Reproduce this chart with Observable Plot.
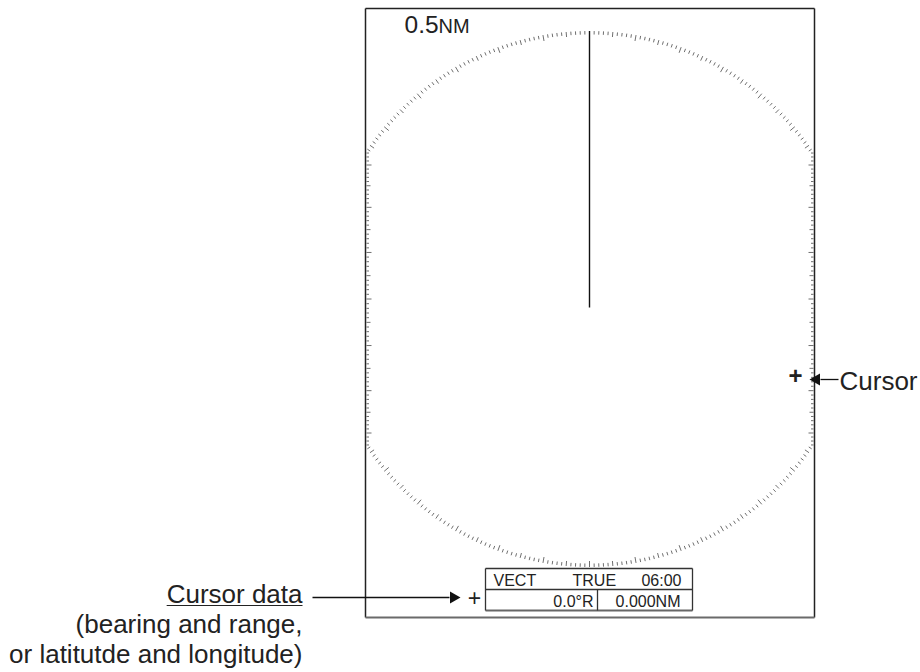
<!DOCTYPE html>
<html><head><meta charset="utf-8">
<script src="https://cdn.jsdelivr.net/npm/d3@7"></script>
<script src="https://cdn.jsdelivr.net/npm/@observablehq/plot@0.6"></script>
<style>body{margin:0;background:#fff}svg{display:block}</style>
</head><body><div id="chart"></div>
<script>
// ---- content ----
const rangeValue = "0.5";
const rangeUnit = "NM";
const vectorRow = ["VECT", "TRUE", "06:00"];
const cursorRow = ["0.0°R", "0.000NM"];
const cursorLabel = "Cursor";
const dataLabels = ["Cursor data", "(bearing and range,", "or latitutde and longitude)"];
const ringDegrees = d3.range(0, 360, 1);      // bearing scale graduations, one per degree

// ---- screen geometry (display units) ----
const frame = {x1: 365, x2: 814, y1: 8, y2: 617};
const ring = {cx: 589, cy: 298.5, r: 268};
const headingEnd = 307;
const box = {x1: 485, x2: 692, y1: 568, ym: 589, y2: 610, xd: 597};

const FONT = "Liberation Sans, Arial, Helvetica, sans-serif";
const ctx = document.createElement("canvas").getContext("2d");
const textWidth = (s, size) => { ctx.font = `${size}px ${FONT}`; return ctx.measureText(s).width; };

// ring ticks: radial inside the frame, horizontal stubs where the ring is cut by the frame
const ticks = ringDegrees.map(deg => {
  const len = deg % 10 === 0 ? 6 : deg % 5 === 0 ? 5 : 3.5;
  const a = deg * Math.PI / 180;
  const sx = Math.sin(a), sy = -Math.cos(a);
  let x1 = ring.cx + ring.r * sx, y1 = ring.cy + ring.r * sy;
  let x2 = ring.cx + (ring.r - len) * sx, y2 = ring.cy + (ring.r - len) * sy;
  if (x1 < frame.x1 + 1.5) { x1 = frame.x1 + 1; x2 = x1 + len - 1; y2 = y1; }
  if (x1 > frame.x2 - 1.5) { x1 = frame.x2 - 1; x2 = x1 - len + 1; y2 = y1; }
  return {x1, y1, x2, y2};
});

const big = 26;
const boxFont = 16;
const labelRows = dataLabels.map((t, i) => ({t, x: 302, y: 602 + i * 30}));
const ulW = textWidth(dataLabels[0], big);

const texts = [
  {t: rangeValue, x: 404, y: 32, size: 24.5, anchor: "start", weight: "normal"},
  {t: rangeUnit, x: 404 + textWidth(rangeValue, 24.5), y: 32, size: 20, anchor: "start", weight: "normal"},
  {t: cursorLabel, x: 839, y: 389, size: big, anchor: "start", weight: "normal"},
  {t: vectorRow[0], x: 493, y: 585, size: boxFont, anchor: "start", weight: "normal"},
  {t: vectorRow[1], x: 572, y: 585, size: boxFont, anchor: "start", weight: "normal"},
  {t: vectorRow[2], x: 681, y: 585, size: boxFont, anchor: "end", weight: "normal"},
  {t: cursorRow[0], x: 593, y: 606, size: boxFont, anchor: "end", weight: "normal"},
  {t: cursorRow[1], x: 680, y: 606, size: boxFont, anchor: "end", weight: "normal"},
  ...labelRows.map(d => ({t: d.t, x: d.x, y: d.y, size: big, anchor: "end", weight: "normal"}))
];

const pluses = [
  {x: 795, y: 376, size: 24, weight: "bold"},
  {x: 474, y: 598, size: 23, weight: "normal"}
];

const arrows = [
  {x1: 312, x2: 449, y: 597, rot: 90, tip: 457},
  {x1: 838, x2: 820, y: 379, rot: -90, tip: 812}
];

const fr = [frame];
const chart = Plot.plot({
  width: 920, height: 672,
  margin: 0,
  x: {domain: [0, 920], range: [0, 920], axis: null},
  y: {domain: [0, 672], range: [0, 672], axis: null},
  marks: [
    // ring graduations
    Plot.link(ticks, {x1: "x1", y1: "y1", x2: "x2", y2: "y2", stroke: "#6f6f6f", strokeWidth: 1}),
    // frame
    Plot.link(fr, {x1: "x1", x2: "x2", y1: "y1", y2: "y1", stroke: "#222", strokeWidth: 1.5}),
    Plot.link(fr, {x1: "x1", x2: "x1", y1: "y1", y2: "y2", stroke: "#222", strokeWidth: 1.5}),
    Plot.link(fr, {x1: "x2", x2: "x2", y1: "y1", y2: "y2", stroke: "#222", strokeWidth: 1.5}),
    Plot.link(fr, {x1: "x1", x2: "x2", y1: "y2", y2: "y2", stroke: "#6a6a6a", strokeWidth: 2}),
    // heading line
    Plot.link([ring], {x1: "cx", x2: "cx", y1: d => d.cy - d.r, y2: headingEnd, stroke: "#111", strokeWidth: 1.4}),
    // data box
    Plot.link([box], {x1: "x1", x2: "x2", y1: "y1", y2: "y1", stroke: "#333", strokeWidth: 1.3}),
    Plot.link([box], {x1: "x1", x2: "x2", y1: "ym", y2: "ym", stroke: "#333", strokeWidth: 1.3}),
    Plot.link([box], {x1: "x1", x2: "x2", y1: "y2", y2: "y2", stroke: "#666", strokeWidth: 1.8}),
    Plot.link([box], {x1: "x1", x2: "x1", y1: "y1", y2: "y2", stroke: "#333", strokeWidth: 1.3}),
    Plot.link([box], {x1: "x2", x2: "x2", y1: "y1", y2: "y2", stroke: "#333", strokeWidth: 1.3}),
    Plot.link([box], {x1: "xd", x2: "xd", y1: "ym", y2: "y2", stroke: "#333", strokeWidth: 1.3}),
    // arrows
    Plot.link(arrows, {x1: "x1", x2: "x2", y1: "y", y2: "y", stroke: "#111", strokeWidth: 1.3}),
    Plot.dot(arrows, {x: d => (d.x2 + d.tip) / 2, y: "y", symbol: "triangle", r: 4.5, rotate: "rot", fill: "#111", stroke: "none"}),
    // underline
    Plot.link([labelRows[0]], {x1: d => d.x - ulW, x2: "x", y1: d => d.y + 3, y2: d => d.y + 3, stroke: "#222", strokeWidth: 1.2}),
    // texts
    ...texts.map(d => Plot.text([d], {x: "x", y: "y", text: "t", fontSize: d.size, fontFamily: FONT,
      textAnchor: d.anchor, lineAnchor: "bottom", fill: "#222", fontWeight: d.weight})),
    ...pluses.map(d => Plot.text([d], {x: "x", y: "y", text: () => "+", fontSize: d.size, fontFamily: FONT,
      textAnchor: "middle", lineAnchor: "middle", fill: "#222", fontWeight: d.weight}))
  ]
});
document.getElementById("chart").append(chart);
</script>
</body></html>
